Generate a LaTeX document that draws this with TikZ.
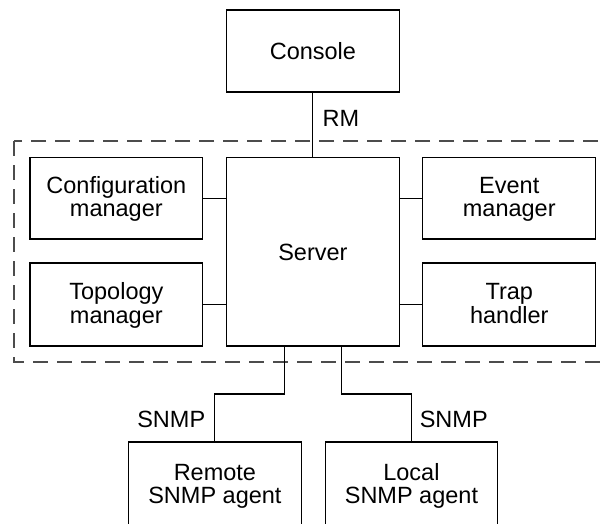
\documentclass[tikz,border=0pt]{standalone}
\usepackage{fontspec}
\setmainfont{Liberation Sans}
\begin{document}
\begin{tikzpicture}[x=1pt,y=-1pt,
  every node/.style={font=\fontsize{23.5}{23.5}\selectfont},
  blk/.style={draw, line width=1.1pt, inner sep=0pt, outer sep=0pt, align=center, minimum width=172.7pt, text height=16.8pt, text depth=0pt},
  blktwo/.style={blk, text height=40.3pt, text depth=3pt},
  conn/.style={line width=1.1pt},
  lbl/.style={inner sep=0pt, outer sep=0pt}]
\useasboundingbox (0,0) rectangle (605,523);
\clip (0,0) rectangle (605,523);
\fill[white] (0,0) rectangle (605,523);
% dashed boundary
\draw[line width=1.3pt, black!70, dash pattern=on 15pt off 9pt] (14,141) rectangle (625,362);
% boxes
\node[blk, minimum height=82pt] (console) at (312.9,51) {Console};
\node[blk, minimum height=188.5pt] (server) at (312.9,251.75) {Server};
\node[blktwo, minimum height=81.5pt] (config) at (116.35,198.25) {Configuration\\manager};
\node[blktwo, minimum height=81.5pt] (event) at (509.25,198.25) {Event\\manager};
\node[blktwo, minimum height=83pt] (topo) at (116.35,304.5) {Topology\\manager};
\node[blktwo, minimum height=83pt] (trap) at (509.25,304.5) {Trap\\handler};
\node[blktwo, minimum height=86pt] (remote) at (214.9,485) {Remote\\SNMP agent};
\node[blktwo, minimum height=86pt] (localag) at (411.45,485) {Local\\SNMP agent};
% connectors
\draw[conn] (console.south) -- (server.north);
\draw[conn] (config.east) -- (config.east -| server.west);
\draw[conn] (topo.east) -- (topo.east -| server.west);
\draw[conn] (event.west) -- (event.west -| server.east);
\draw[conn] (trap.west) -- (trap.west -| server.east);
\coordinate (b1) at (284.7,394);
\coordinate (b2) at (341.8,394);
\draw[conn] (b1 |- server.south) -- (b1) -| (remote.north);
\draw[conn] (b2 |- server.south) -- (b2) -| (localag.north);
% labels
\node[lbl, anchor=base west] (rm) at (322.7,126) {RM};
\node[lbl, anchor=base east] (snmp1) at (205.2,427) {SNMP};
\node[lbl, anchor=base west] (snmp2) at (419.8,427) {SNMP};
\end{tikzpicture}
\end{document}
